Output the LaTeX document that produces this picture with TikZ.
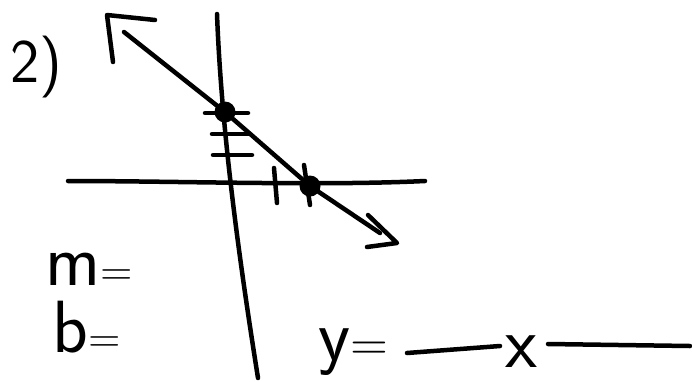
\documentclass[tikz,border=0pt]{standalone}
\usepackage{tikz}

\begin{document}
\begin{tikzpicture}[
  x=1pt,y=-1pt,
  pen/.style={line width=4.5pt,line cap=round,line join=round},
  dot/.style={circle,fill=black,inner sep=0pt,minimum size=21pt},
  hand/.style={font=\sffamily\fontsize{74}{74}\selectfont,inner sep=0pt,
               anchor=base west}
]
\useasboundingbox (0,0) rectangle (692,381);
% axes
\draw[pen] (217,14) .. controls (221,120) and (236,240) .. (258,378);
\draw[pen] (68,181) .. controls (180,181) and (320,186) .. (425,181);
% points on the line
\node[dot] (yint) at (225,112) {};
\node[dot] (xint) at (310,186) {};
\coordinate (top) at (124,32);
\coordinate (bot) at (380,233);
\draw[pen] (top) -- (yint.center) -- (xint.center) -- (bot);
% arrow heads
\draw[pen] (113,62) -- (107,15) -- (155,20);
\draw[pen] (368,215) -- (397,243) -- (367,247);
% ticks
\draw[pen] (205,113) -- (248,113);
\draw[pen] (212,134) -- (250,134);
\draw[pen] (213,155) -- (252,155);
\draw[pen] (274,168) -- (277,203);
\draw[pen] (304,165) -- (310,205);
% labels
\node[hand,font=\sffamily\fontsize{62}{62}\selectfont] (num) at (10,82) {2)};
\node[hand] (slope) at (45,285) {m\scalebox{.6}{=}};
\node[hand] (icept) at (52,352) {b\scalebox{.6}{=}};
\node[hand] (yeq) at (318,360) {y\scalebox{.7}{=}};
\node[hand] (xvar) at (505,367) {x};
% blanks
\coordinate (blank1) at (407,353);
\coordinate (blank2) at (548,344);
\draw[pen] (blank1) -- (500,346);
\draw[pen] (blank2) -- (690,346);
\end{tikzpicture}
\end{document}
